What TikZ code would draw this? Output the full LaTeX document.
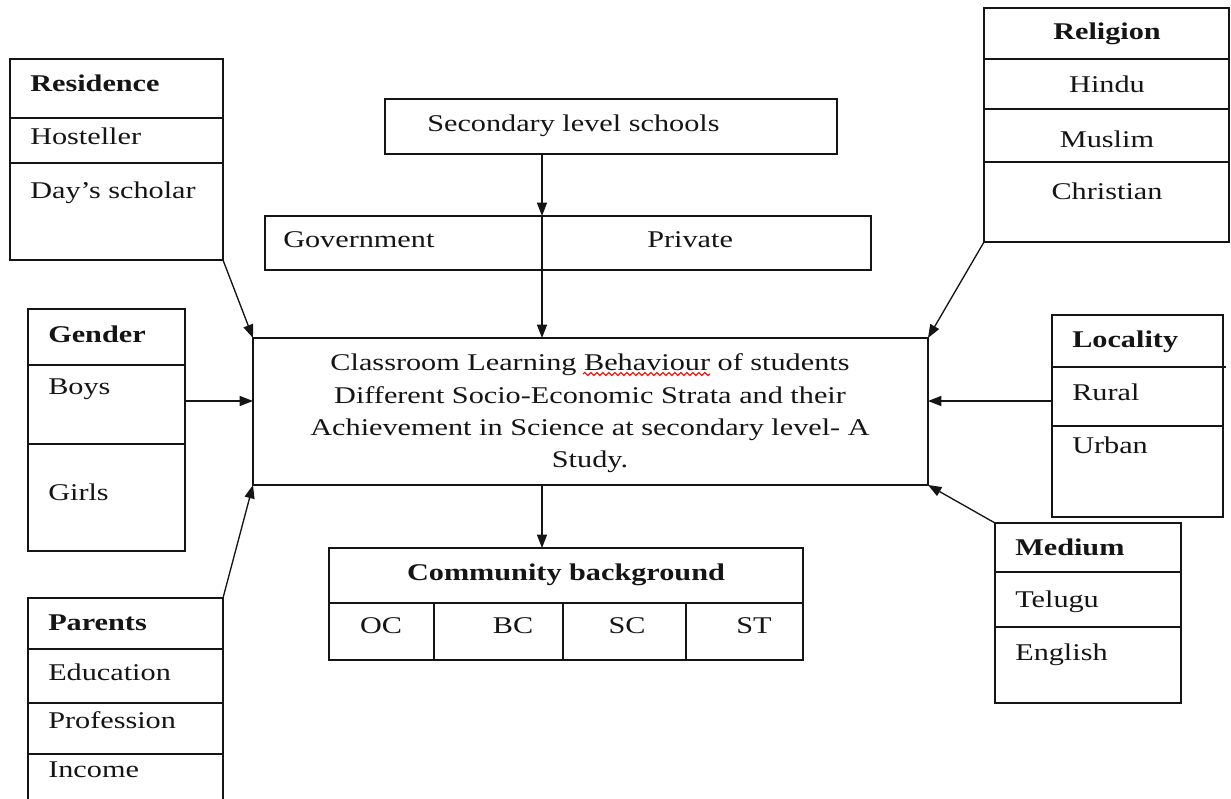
\documentclass[tikz,border=0pt]{standalone}
\usepackage{fontspec}
\setmainfont{Liberation Serif}[FakeStretch=1.26]
\usetikzlibrary{arrows.meta,fit,decorations.pathmorphing}
\definecolor{ink}{HTML}{151515}
\begin{document}
\begin{tikzpicture}[x=0.75pt,y=-0.75pt,
  font=\fontsize{18}{24.75}\selectfont,
  box/.style={draw=ink, line width=1pt, inner sep=0pt, outer sep=0pt},
  rule/.style={draw=ink, line width=1pt},
  lbl/.style={anchor=base west, inner sep=0pt, text=ink},
  ctr/.style={anchor=base, inner sep=0pt, text=ink},
  hd/.style={font=\fontsize{18}{24.75}\selectfont\bfseries},
  arr/.style={draw=ink, line width=1pt, -{Triangle[length=10pt,width=7.5pt]}}]

\clip (0,0) rectangle (1231,799);
\fill[white] (0,0) rectangle (1231,799);

\coordinate (spine) at (542,0);

% central study box
\node[box, fit={(253,338)(928,485)}] (main) {};
\node[ctr] (m1) at (590,370) {Classroom Learning Behaviour of students};
\node[ctr] (m2) at (590,403) {Different Socio-Economic Strata and their};
\node[ctr] (m3) at (590,435) {Achievement in Science at secondary level- A};
\node[ctr] (m4) at (590,467) {Study.};
\draw[red, line width=0.8pt, decorate,
      decoration={snake, amplitude=1.2pt, segment length=4.5pt}] (583,374) -- (710,374);

% schools
\node[box, fit={(385,99)(837,154)}] (sec) {};
\node[lbl] (sect) at (427,132) {Secondary level schools};
\node[box, fit={(265,216)(871,270)}] (gov) {};
\node[lbl] (govt) at (283,247) {Government};
\node[lbl] (pvt) at (647,247) {Private};

% residence
\node[box, fit={(10,59)(223,260)}] (res) {};
\draw[rule] (res.west |- 0,118) -- (res.east |- 0,118);
\draw[rule] (res.west |- 0,163) -- (res.east |- 0,163);
\node[lbl, hd] (res0) at (30,92) {Residence};
\node[lbl] (res1) at (30,144) {Hosteller};
\node[lbl] (res2) at (30,198) {Day’s scholar};

% gender
\node[box, fit={(28,309)(185,551)}] (gen) {};
\draw[rule] (gen.west |- 0,365) -- (gen.east |- 0,365);
\draw[rule] (gen.west |- 0,444) -- (gen.east |- 0,444);
\node[lbl, hd] (gen0) at (48,342) {Gender};
\node[lbl] (gen1) at (48,394) {Boys};
\node[lbl] (gen2) at (48,500) {Girls};

% parents
\node[box, fit={(28,598)(223,830)}] (par) {};
\draw[rule] (28,649) -- (223,649);
\draw[rule] (28,703) -- (223,703);
\draw[rule] (28,754) -- (223,754);
\node[lbl, hd] (par0) at (48,630) {Parents};
\node[lbl] (par1) at (48,680) {Education};
\node[lbl] (par2) at (48,728) {Profession};
\node[lbl] (par3) at (48,777) {Income};

% religion
\node[box, fit={(984,8)(1229,242)}] (rel) {};
\draw[rule] (rel.west |- 0,59) -- (rel.east |- 0,59);
\draw[rule] (rel.west |- 0,109) -- (rel.east |- 0,109);
\draw[rule] (rel.west |- 0,162) -- (rel.east |- 0,162);
\node[ctr, hd] (rel0) at (1107,40) {Religion};
\node[ctr] (rel1) at (1107,93) {Hindu};
\node[ctr] (rel2) at (1107,147) {Muslim};
\node[ctr] (rel3) at (1107,199) {Christian};

% locality
\node[box, fit={(1052,315)(1223,517)}] (loc) {};
\draw[rule] (loc.west |- 0,367) -- (1226,367);
\draw[rule] (loc.west |- 0,426) -- (loc.east |- 0,426);
\node[lbl, hd] (loc0) at (1072,347) {Locality};
\node[lbl] (loc1) at (1072,400) {Rural};
\node[lbl] (loc2) at (1072,453) {Urban};

% medium
\node[box, fit={(995,523)(1181,703)}] (med) {};
\draw[rule] (med.west |- 0,572) -- (med.east |- 0,572);
\draw[rule] (med.west |- 0,627) -- (med.east |- 0,627);
\node[lbl, hd] (med0) at (1015,555) {Medium};
\node[lbl] (med1) at (1015,607) {Telugu};
\node[lbl] (med2) at (1015,660) {English};

% community background
\node[box, fit={(329,548)(803,660)}] (com) {};
\draw[rule] (com.west |- 0,603) -- (com.east |- 0,603);
\draw[rule] (434,603) -- (434,660);
\draw[rule] (563,603) -- (563,660);
\draw[rule] (686,603) -- (686,660);
\node[ctr, hd] (com0) at (566,580) {Community background};
\node[ctr] (oc) at (381,633) {OC};
\node[ctr] (bc) at (513,633) {BC};
\node[ctr] (sc) at (627,633) {SC};
\node[ctr] (st) at (754,633) {ST};

% connectors
\draw[arr] (sec.south -| spine) -- (gov.north -| spine);
\draw[arr] (gov.north -| spine) -- (main.north -| spine);
\draw[arr] (main.south -| spine) -- (com.north -| spine);
\draw[arr] (res.south east) -- (main.north west);
\draw[arr] (gen.east |- 0,401) -- (main.west |- 0,401);
\draw[arr] (par.north east) -- (main.south west);
\draw[arr] (rel.south west) -- (main.north east);
\draw[arr] (loc.west |- 0,401) -- (main.east |- 0,401);
\draw[arr] (med.north west) -- (main.south east);
\end{tikzpicture}
\end{document}
